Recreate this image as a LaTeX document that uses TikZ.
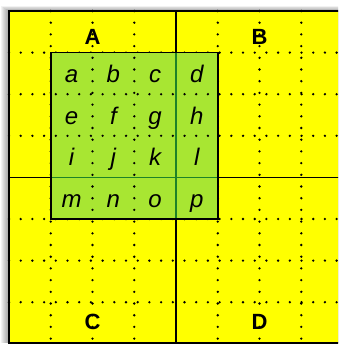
\documentclass[tikz,border=0pt]{standalone}
\usepackage{fontspec}
\setmainfont{Liberation Sans}
\definecolor{cellgreen}{RGB}{168,230,50}
\definecolor{linegreen}{RGB}{30,130,40}
\definecolor{bgyellow}{RGB}{255,255,0}
\tikzset{
  dotline/.style={line width=2.6pt, dash pattern=on 0pt off 11.7pt, line cap=round},
  solidline/.style={line width=1.8pt, black},
  letter/.style={anchor=base, inner sep=0pt, font=\fontsize{24}{24}\selectfont\itshape},
  quad/.style={anchor=base, inner sep=0pt, font=\fontsize{22}{22}\selectfont\bfseries}
}
\begin{document}
\begin{tikzpicture}[x=1pt,y=-1pt]
\useasboundingbox (0,0) rectangle (338,345);
\clip (0,0) rectangle (338,345);
% shadow
\foreach \i in {1,...,8} \fill[black,opacity=0.05] ({9-\i},{11-0.6*\i}) rectangle (345,343);
% yellow background
\fill[bgyellow] (9,11) rectangle (345,343);
% dotted grid
\foreach \k in {1,2,3,5,6,7} {
  \draw[dotline] ({9+41.75*\k},11) -- ({9+41.75*\k},343);
  \draw[dotline] (9,{11+41.6*\k}) -- (345,{11+41.6*\k});
}
% solid dividing lines
\draw[solidline] (176,11) -- (176,343);
\draw[solidline] (9,177.4) -- (345,177.4);
% green block
\fill[cellgreen] (50.75,52.6) rectangle (217.75,219);
\begin{scope}
\clip (50.75,52.6) rectangle (217.75,219);
\foreach \k in {2,3} {
  \draw[dotline] ({9+41.75*\k},11) -- ({9+41.75*\k},343);
  \draw[dotline] (9,{11+41.6*\k}) -- (345,{11+41.6*\k});
}
\end{scope}
\draw[line width=1.8pt, linegreen] (176,52.6) -- (176,219);
\draw[line width=1.8pt, linegreen] (50.75,177.4) -- (217.75,177.4);
\draw[solidline] (50.75,52.6) rectangle (217.75,219);
% outer border
\draw[solidline] (345,11) -- (9,11) -- (9,343) -- (345,343);
% letters
\node[letter] (a) at (71.6,82.4) {a};
\node[letter] (b) at (113.4,82.4) {b};
\node[letter] (c) at (155.1,82.4) {c};
\node[letter] (d) at (196.9,82.4) {d};
\node[letter] (e) at (71.6,124) {e};
\node[letter] (f) at (113.4,124) {f};
\node[letter] (g) at (155.1,124) {g};
\node[letter] (h) at (196.9,124) {h};
\node[letter] (i) at (71.6,165.6) {i};
\node[letter] (j) at (113.4,165.6) {j};
\node[letter] (k) at (155.1,165.6) {k};
\node[letter] (l) at (196.9,165.6) {l};
\node[letter] (m) at (71.6,207.2) {m};
\node[letter] (n) at (113.4,207.2) {n};
\node[letter] (o) at (155.1,207.2) {o};
\node[letter] (p) at (196.9,207.2) {p};
% quadrant labels
\node[quad] (qA) at (92.5,45) {A};
\node[quad] (qB) at (259.5,45) {B};
\node[quad] (qC) at (92.5,329) {C};
\node[quad] (qD) at (259.5,329) {D};
\end{tikzpicture}
\end{document}
